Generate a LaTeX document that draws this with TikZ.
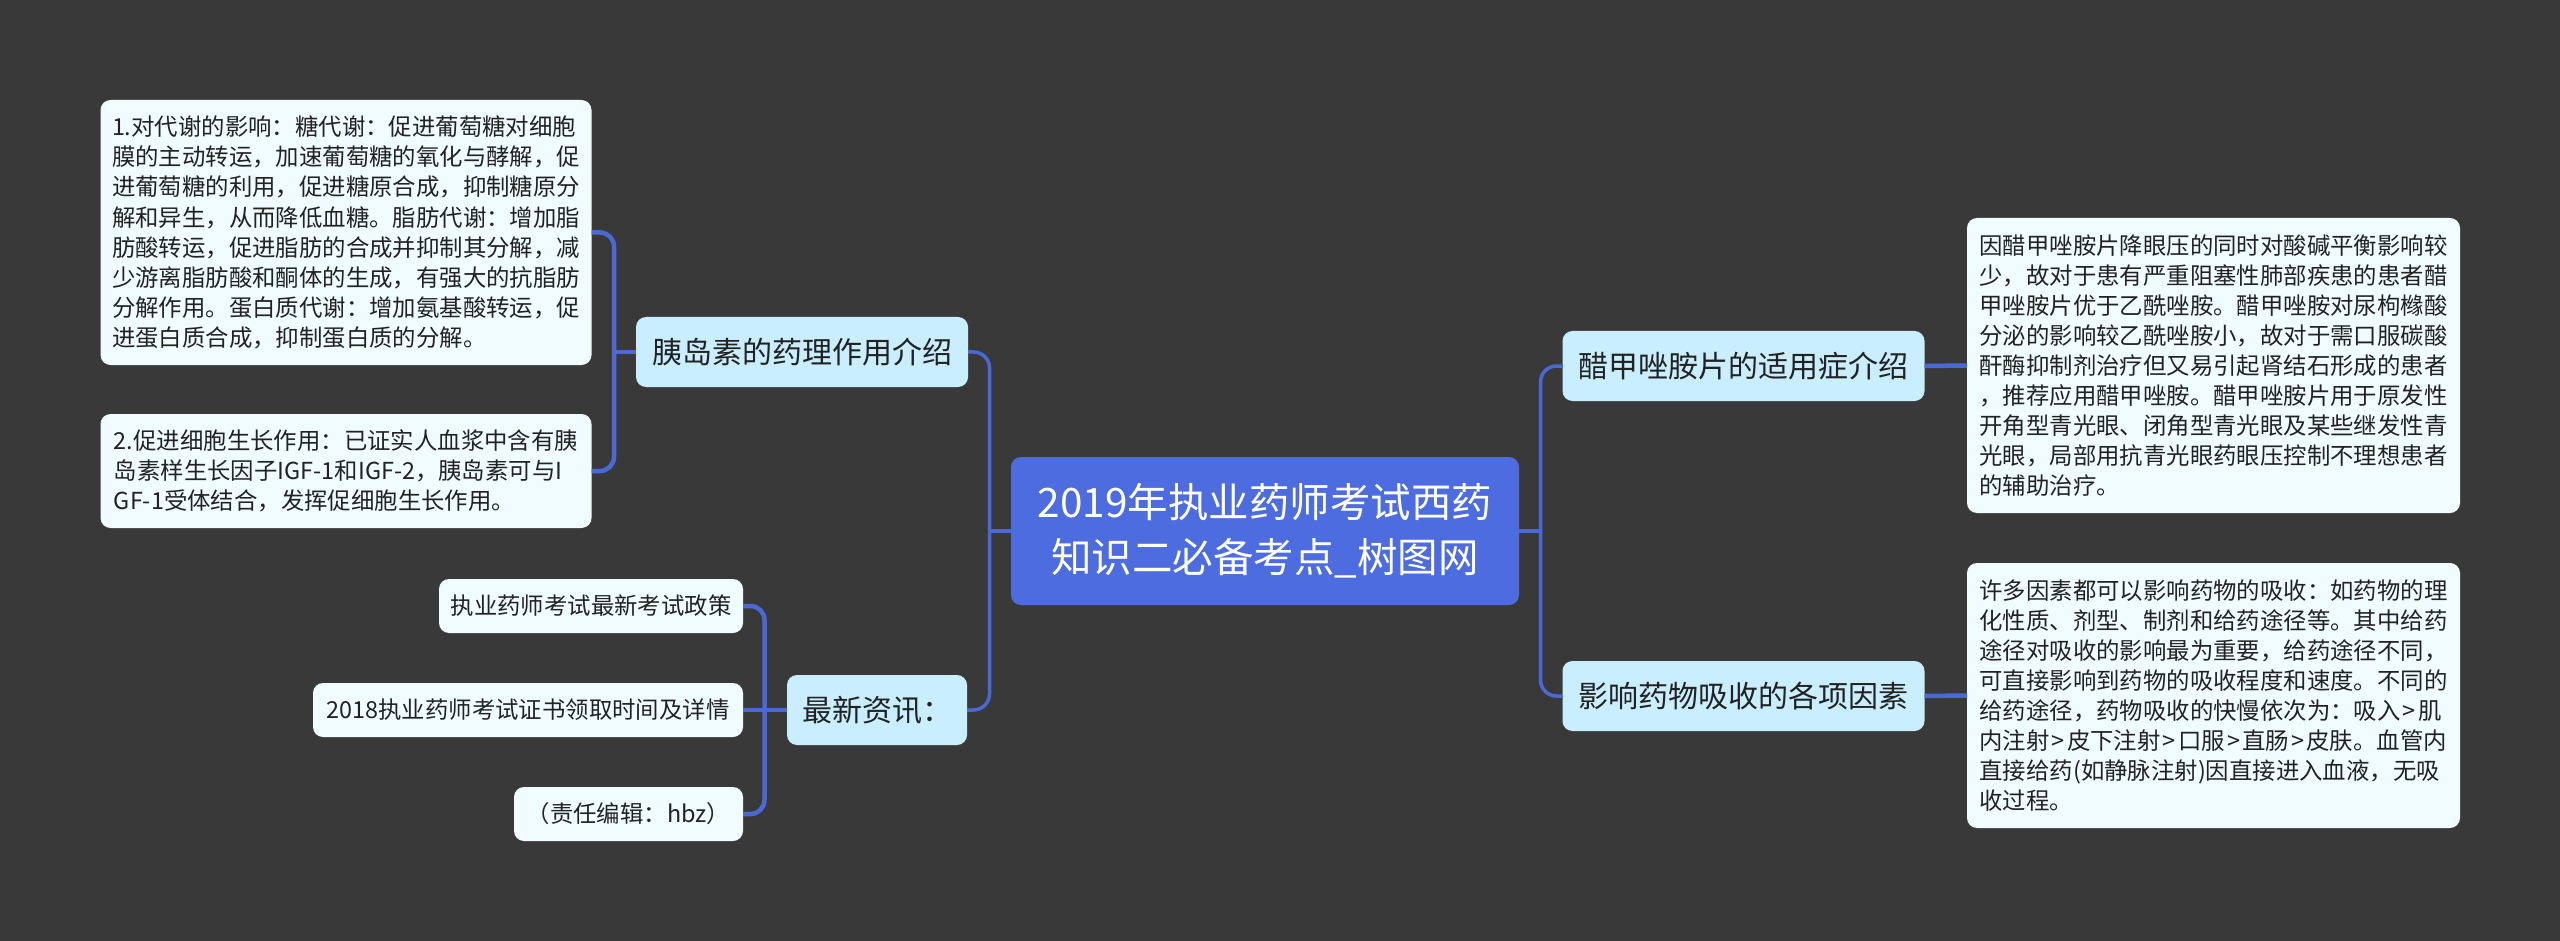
\documentclass[tikz,border=0pt]{standalone}
\usepackage{fontspec}
\setmainfont{Noto Sans CJK SC}
\definecolor{bgc}{HTML}{3A393A}
\definecolor{rootc}{HTML}{4C6CE0}
\definecolor{branchc}{HTML}{C9EEFF}
\definecolor{leafc}{HTML}{F0FCFF}
\definecolor{linec}{HTML}{4A69D6}
\definecolor{inkc}{HTML}{222222}
\newcommand{\gtsign}{\kern2.2pt>\kern2.2pt}
\tikzset{
  basebox/.style={rounded corners=10pt,inner sep=0pt,outer sep=0pt},
  rootbox/.style={basebox,fill=rootc,text=white,align=center,font=\fontsize{40.5}{55}\selectfont},
  branchbox/.style={basebox,fill=branchc,text=inkc,align=center,font=\fontsize{30}{38}\selectfont},
  leafbox/.style={basebox,fill=leafc,text=inkc,align=left,font=\fontsize{23.4}{30.1}\selectfont},
  leafmulti/.style={leafbox,execute at begin node={\rule{0pt}{24pt}}},
  connA/.style={draw=linec,line width=3.5pt,rounded corners=16pt},
  connB/.style={draw=linec,line width=4.5pt,rounded corners=14pt}
}
\begin{document}
\begin{tikzpicture}[x=1pt,y=-1pt]
\useasboundingbox (0,0) rectangle (2560,941);
\fill[bgc] (0,0) rectangle (2560,941);

\coordinate (busL) at (989.5,531);
\coordinate (busR) at (1540.5,531);
\coordinate (busA) at (614,352);
\coordinate (busB) at (764.5,710);

% connectors are drawn below the boxes
\node[rootbox,minimum width=508pt,minimum height=148pt] (root) at (1265,531) {2019年执业药师考试西药\\知识二必备考点\_树图网};

\node[branchbox,minimum width=332pt,minimum height=70pt] (bl1) at (802,352) {胰岛素的药理作用介绍};
\node[branchbox,minimum width=180pt,minimum height=70pt] (bl2) at (877,710) {最新资讯：};
\node[branchbox,minimum width=362pt,minimum height=70pt] (br1) at (1743.5,366) {醋甲唑胺片的适用症介绍};
\node[branchbox,minimum width=362pt,minimum height=70pt] (br2) at (1743.5,696) {影响药物吸收的各项因素};

\node[leafmulti,minimum width=491pt,minimum height=265pt] (ll1) at (346,232.5) {1.对代谢的影响：糖代谢：促进葡萄糖对细胞\\膜的主动转运，加速葡萄糖的氧化与酵解，促\\进葡萄糖的利用，促进糖原合成，抑制糖原分\\解和异生，从而降低血糖。脂肪代谢：增加脂\\肪酸转运，促进脂肪的合成并抑制其分解，减\\少游离脂肪酸和酮体的生成，有强大的抗脂肪\\分解作用。蛋白质代谢：增加氨基酸转运，促\\进蛋白质合成，抑制蛋白质的分解。};
\node[leafmulti,minimum width=491pt,minimum height=114pt] (ll2) at (346,471) {2.促进细胞生长作用：已证实人血浆中含有胰\\岛素样生长因子IGF-1和IGF-2，胰岛素可与I\\GF-1受体结合，发挥促细胞生长作用。};

\node[leafbox,minimum width=304pt,minimum height=54pt] (ln1) at (591,606) {执业药师考试最新考试政策};
\node[leafbox,minimum width=430pt,minimum height=54pt] (ln2) at (528,710) {2018执业药师考试证书领取时间及详情};
\node[leafbox,minimum width=229pt,minimum height=54pt] (ln3) at (628.5,814) {（责任编辑：hbz）};

\node[leafmulti,minimum width=493pt,minimum height=295pt] (lr1) at (2213.5,365.5) {因醋甲唑胺片降眼压的同时对酸碱平衡影响较\\少，故对于患有严重阻塞性肺部疾患的患者醋\\甲唑胺片优于乙酰唑胺。醋甲唑胺对尿枸橼酸\\分泌的影响较乙酰唑胺小，故对于需口服碳酸\\酐酶抑制剂治疗但又易引起肾结石形成的患者\\，推荐应用醋甲唑胺。醋甲唑胺片用于原发性\\开角型青光眼、闭角型青光眼及某些继发性青\\光眼，局部用抗青光眼药眼压控制不理想患者\\的辅助治疗。};
\node[leafmulti,minimum width=493pt,minimum height=265pt] (lr2) at (2213.5,695.5) {许多因素都可以影响药物的吸收：如药物的理\\化性质、剂型、制剂和给药途径等。其中给药\\途径对吸收的影响最为重要，给药途径不同，\\可直接影响到药物的吸收程度和速度。不同的\\给药途径，药物吸收的快慢依次为：吸入\gtsign 肌\\内注射\gtsign 皮下注射\gtsign 口服\gtsign 直肠\gtsign 皮肤。血管内\\直接给药(如静脉注射)因直接进入血液，无吸\\收过程。};

% root to branches
\draw[connA] (root.west) -- (busL);
\draw[connA] (root.east) -- (busR);
\draw[connA] (bl1.east) -| (busL) |- (bl2.east);
\draw[connA] (br1.west) -| (busR) |- (br2.west);

% branches to leaves
\draw[connB] (ll1.east) -| (busA) |- (ll2.east);
\draw[connB] (bl1.west) -- (busA);
\draw[connB] (ln1.east) -| (busB) |- (ln3.east);
\draw[connB] (ln2.east) -- (bl2.west);
\draw[connB] (br1.east) -- (lr1.west);
\draw[connB] (br2.east) -- (lr2.west);
\end{tikzpicture}
\end{document}
